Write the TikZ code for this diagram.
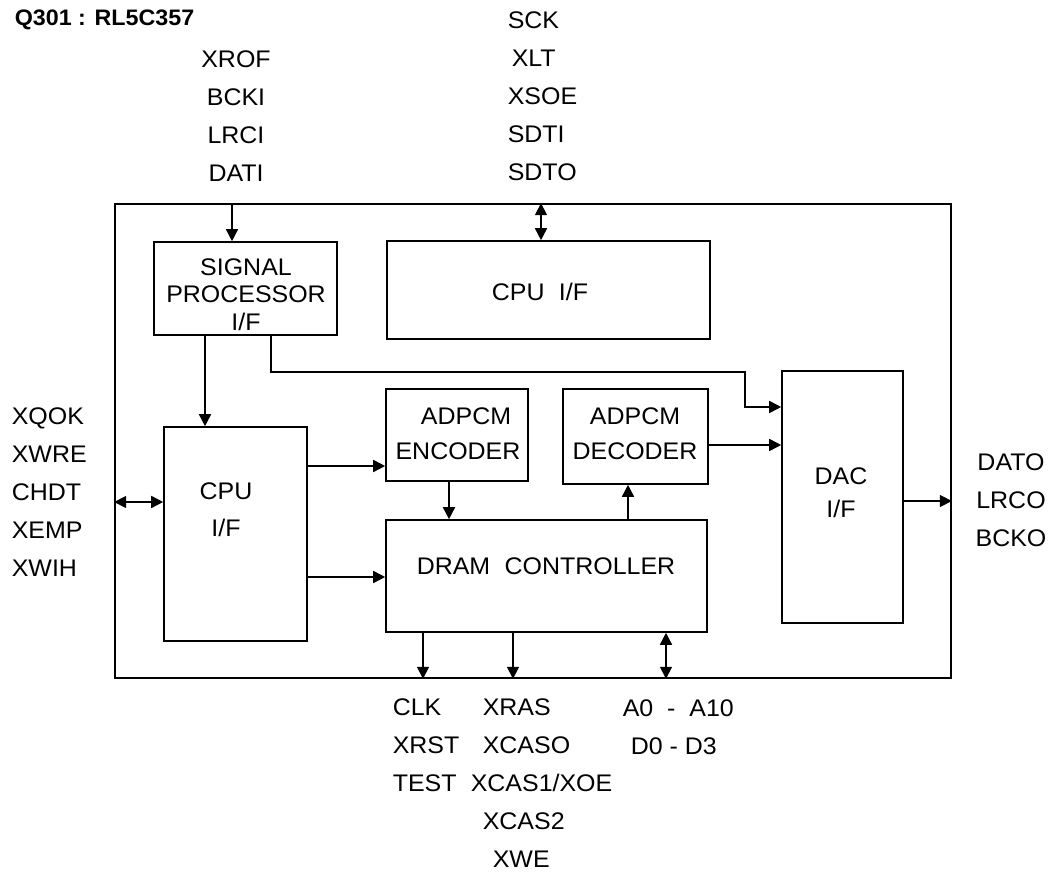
\documentclass[tikz,border=0pt]{standalone}
\usepackage{fontspec}
\setmainfont{Liberation Sans}[FakeStretch=1.04]
\usepackage{tikz}
\usetikzlibrary{arrows.meta,positioning,fit,calc}

\begin{document}
\begin{tikzpicture}[
  x=0.75pt, y=-0.75pt,
  >={Triangle[length=9pt,width=9pt]},
  line width=1.2pt,
  font=\fontsize{18}{26}\selectfont,
  blk/.style={draw, inner sep=0pt},
  txt/.style={inner sep=0pt, align=center},
  pins/.style={inner sep=0pt, font=\fontsize{18}{28.5}\selectfont}
]
\useasboundingbox (0,0) rectangle (1054,873);

% chip outline and blocks
\node[blk, fit={(115,204) (951,678)}] (chip) {};
\node[blk, fit={(154,242) (337,335)}] (sp) {};
\node[blk, fit={(387,241) (710,339)}] (cputop) {};
\node[blk, fit={(164,427) (307,641)}] (cpu) {};
\node[blk, fit={(386,389) (528,481)}] (enc) {};
\node[blk, fit={(563,389) (708,484)}] (dec) {};
\node[blk, fit={(386,520) (707,632)}] (dram) {};
\node[blk, fit={(782,371) (903,623)}] (dac) {};

% block texts
\node[txt, font=\fontsize{18}{20.6}\selectfont] (sptxt) at (246,294.5) {SIGNAL\\PROCESSOR\\I/F};
\node[txt] (cputoptxt) at (540,292) {CPU\hspace{0.6em}I/F};
\node[txt, font=\fontsize{18}{27.75}\selectfont] (cputxt) at (226,509.5) {CPU\\I/F};
\node[txt, font=\fontsize{18}{26.25}\selectfont] (enctxt) at (458,433.5) {\hspace*{12pt}ADPCM\\ENCODER};
\node[txt, font=\fontsize{18}{26.25}\selectfont] (dectxt) at (635,433.5) {ADPCM\\DECODER};
\node[txt] (dramtxt) at (546,566) {DRAM\hspace{0.6em}CONTROLLER};
\node[txt, font=\fontsize{18}{24.75}\selectfont] (dactxt) at (841,492.5) {DAC\\I/F};

% pin names
\node[inner sep=0pt, anchor=west, font=\bfseries\fontsize{16.8}{19}\selectfont] (title) at (14,20) {Q301 : RL5C357};
\node[pins, align=center] (spins) at (236,116.5) {XROF\\BCKI\\LRCI\\DATI};
\node[pins, align=left, anchor=west] (cpins) at (507,96) {SCK\\\hspace*{3pt}XLT\\XSOE\\SDTI\\SDTO};
\node[pins, align=left, anchor=west] (lpins) at (11,492.5) {XQOK\\XWRE\\CHDT\\XEMP\\XWIH};
\node[pins, align=center] (rpins) at (1011,500) {DATO\\LRCO\\BCKO};
\node[pins, align=left, anchor=west] (clkpins) at (392,745.5) {CLK\\XRST\\TEST};
\node[pins, align=left, anchor=west] (raspins) at (482,783) {XRAS\\XCASO\\\hspace*{-9pt}XCAS1/XOE\\XCAS2\\\hspace*{7.5pt}XWE};
\node[pins, align=left, anchor=west] (adpins) at (622,727) {A0\ \ -\ \ A10\\\hspace*{6pt}D0 - D3};

% connections
\draw[->] (232,0 |- chip.north) -- (232,0 |- sp.north);
\draw[<->] (541,0 |- chip.north) -- (541,0 |- cputop.north);
\draw[->] (205,0 |- sp.south) -- (205,0 |- cpu.north);
\draw[->] (271,0 |- sp.south) -- (271,372) -- (745,372) -- (745,407) -- (dac.west |- 0,407);
\draw[<->] (chip.west |- 0,502) -- (cpu.west |- 0,502);
\draw[->] (cpu.east |- 0,466) -- (enc.west |- 0,466);
\draw[->] (cpu.east |- 0,577) -- (dram.west |- 0,577);
\draw[->] (449,0 |- enc.south) -- (449,0 |- dram.north);
\draw[->] (628,0 |- dram.north) -- (628,0 |- dec.south);
\draw[->] (dec.east |- 0,445) -- (dac.west |- 0,445);
\draw[->] (dac.east |- 0,501) -- (chip.east |- 0,501);
\draw[->] (423,0 |- dram.south) -- (423,0 |- chip.south);
\draw[->] (513,0 |- dram.south) -- (513,0 |- chip.south);
\draw[<->] (666,0 |- dram.south) -- (666,0 |- chip.south);
\end{tikzpicture}
\end{document}
